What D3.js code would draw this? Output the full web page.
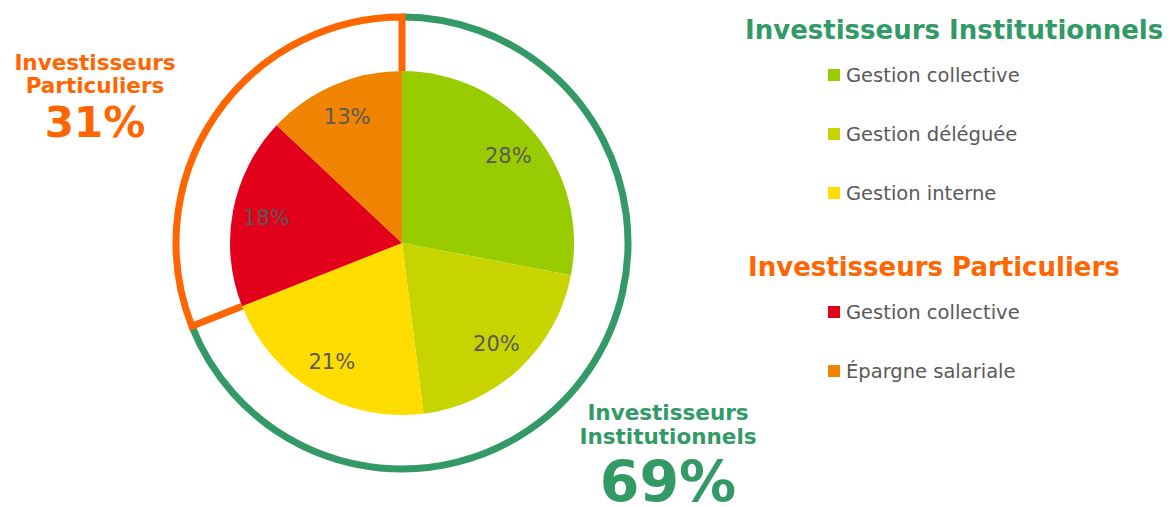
<!DOCTYPE html>
<html lang="fr">
<head>
<meta charset="UTF-8">
<title>Investisseurs</title>
<script src="https://d3js.org/d3.v7.min.js"></script>
<style>
  body { margin: 0; background: #fff; }
  svg { display: block; font-family: "DejaVu Sans", Verdana, sans-serif; }
</style>
</head>
<body>
<script>
// data
const categories = ["Gestion collective", "Gestion déléguée", "Gestion interne", "Gestion collective", "Épargne salariale"];
const values = [28, 20, 21, 18, 13];
const colors = ["#99CC00", "#C8D400", "#FFDD00", "#E2001A", "#F08300"];
const groups = ["Investisseurs Institutionnels", "Investisseurs Particuliers"];
const groupColors = ["#339966", "#FF6600"];
const groupShares = [69, 31];

const width = 1170, height = 507;
const cx = 402, cy = 243, r = 172, ringR = 226;

const svg = d3.select("body").append("svg")
  .attr("width", width)
  .attr("height", height);

const pie = d3.pie().sort(null).value(d => d);
const arcs = pie(values);
const arc = d3.arc().innerRadius(0).outerRadius(r);
const labelArc = d3.arc().innerRadius(138).outerRadius(138);

const g = svg.append("g").attr("transform", `translate(${cx},${cy})`);

g.selectAll("path.slice")
  .data(arcs)
  .join("path")
  .attr("class", "slice")
  .attr("d", arc)
  .attr("fill", (d, i) => colors[i]);

g.selectAll("text.lbl")
  .data(arcs)
  .join("text")
  .attr("class", "lbl")
  .attr("transform", d => `translate(${labelArc.centroid(d)})`)
  .attr("text-anchor", "middle")
  .attr("dy", "0.36em")
  .attr("font-size", 21)
  .attr("fill", "#595959")
  .text(d => d.data + "%");

// outer ring, one arc per group
const groupArcs = pie(groupShares);
const pt = (ang, rad) => [rad * Math.sin(ang), -rad * Math.cos(ang)];

function ringPath(a, withSides) {
  const s = pt(a.startAngle, ringR), e = pt(a.endAngle, ringR);
  const large = (a.endAngle - a.startAngle) > Math.PI ? 1 : 0;
  let d = `M${s}A${ringR},${ringR} 0 ${large} 1 ${e}`;
  if (withSides) {
    d = `M${pt(a.startAngle, r)}L${s}A${ringR},${ringR} 0 ${large} 1 ${e}L${pt(a.endAngle, r)}`;
  }
  return d;
}

g.append("path")
  .attr("d", ringPath(groupArcs[0], false))
  .attr("fill", "none")
  .attr("stroke", groupColors[0])
  .attr("stroke-width", 7);

g.append("path")
  .attr("d", ringPath(groupArcs[1], true))
  .attr("fill", "none")
  .attr("stroke", groupColors[1])
  .attr("stroke-width", 7)
  .attr("stroke-linejoin", "miter");

// side labels
const left = svg.append("g").attr("fill", groupColors[1]).attr("font-weight", "bold").attr("text-anchor", "middle");
left.append("text").attr("x", 95).attr("y", 70).attr("font-size", 21.5).text("Investisseurs");
left.append("text").attr("x", 95).attr("y", 93).attr("font-size", 21.5).text("Particuliers");
left.append("text").attr("x", 95).attr("y", 137).attr("font-size", 42).text(groupShares[1] + "%");

const bottom = svg.append("g").attr("fill", groupColors[0]).attr("font-weight", "bold").attr("text-anchor", "middle");
bottom.append("text").attr("x", 668).attr("y", 420).attr("font-size", 21.5).text("Investisseurs");
bottom.append("text").attr("x", 668).attr("y", 444).attr("font-size", 21.5).text("Institutionnels");
bottom.append("text").attr("x", 668).attr("y", 502).attr("font-size", 57).text(groupShares[0] + "%");

// legend
const legend = svg.append("g");
const titleY = [39, 276];
const itemY = [75, 134, 193, 312, 371];
groups.forEach((name, gi) => {
  legend.append("text")
    .attr("x", gi === 0 ? 745 : 748)
    .attr("y", titleY[gi])
    .attr("font-size", 26)
    .attr("font-weight", "bold")
    .attr("fill", groupColors[gi])
    .text(name);
});
categories.forEach((c, i) => {
  legend.append("rect")
    .attr("x", 828).attr("y", itemY[i] - 6)
    .attr("width", 12).attr("height", 12)
    .attr("fill", colors[i]);
  legend.append("text")
    .attr("x", 846).attr("y", itemY[i])
    .attr("dy", "0.36em")
    .attr("font-size", 19.5)
    .attr("fill", "#595959")
    .text(c);
});
</script>
</body>
</html>
